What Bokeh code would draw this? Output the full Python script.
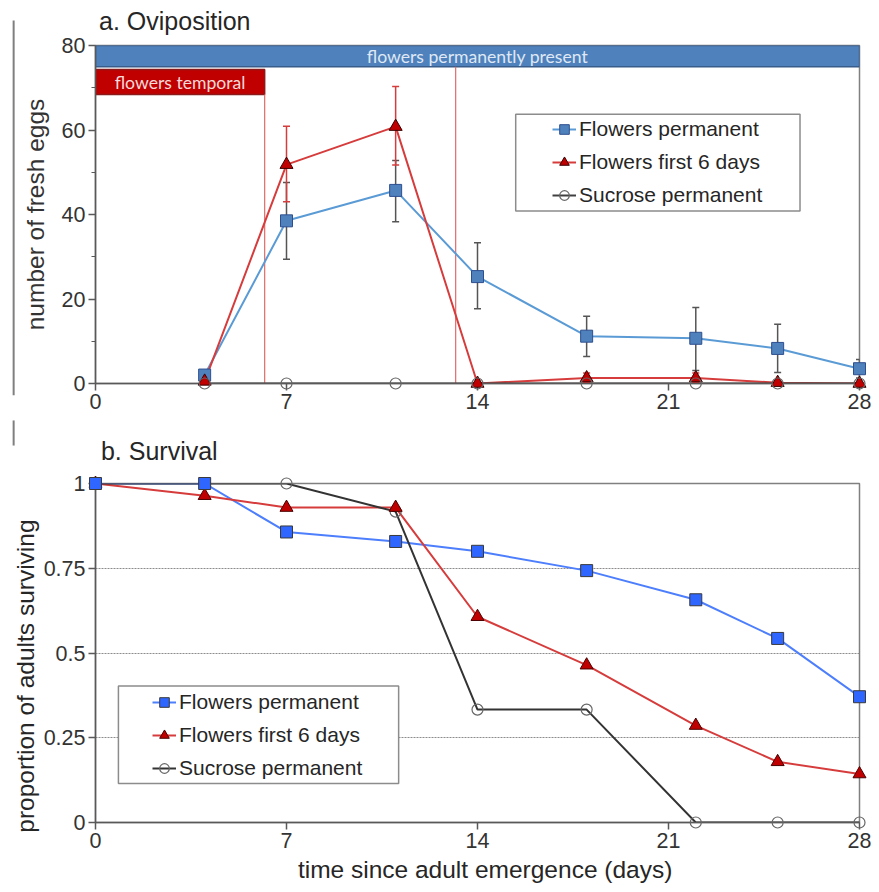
import math
from bokeh.plotting import figure
from bokeh.models import (ColumnDataSource, Whisker, TeeHead, FixedTicker, Legend,
                          LegendItem, BoxAnnotation, Range1d)
from bokeh.layouts import column
from bokeh.embed import file_html
from bokeh.resources import INLINE
from bokeh.core.properties import value

# ---------------- data ----------------
ovi_days = [4, 7, 11, 14, 18, 22, 25, 28]
ovi_perm = [2.0, 38.5, 45.7, 25.3, 11.2, 10.7, 8.3, 3.5]
ovi_first6 = [0.5, 51.8, 60.8, 0.0, 1.3, 1.3, 0.2, 0.0]
ovi_sucrose = [0.0, 0.0, 0.0, 0.0, 0.0, 0.0, 0.0, 0.0]

perm_err_days = [7, 11, 14, 18, 22, 25, 28]
perm_err_lower = [29.4, 38.3, 17.7, 6.4, 3.1, 2.6, 1.3]
perm_err_upper = [47.6, 52.8, 33.3, 15.9, 18.0, 14.0, 5.7]

first6_err_days = [7, 11, 18, 22]
first6_err_lower = [43.0, 51.7, 0.3, 0.3]
first6_err_upper = [60.9, 70.3, 2.5, 2.5]

surv_days = [0, 4, 7, 11, 14, 18, 22, 25, 28]
surv_perm = [1.0, 1.0, 0.857, 0.829, 0.800, 0.743, 0.657, 0.543, 0.371]
surv_first6 = [1.0, 0.964, 0.929, 0.929, 0.607, 0.464, 0.286, 0.179, 0.143]
surv_sucrose = [1.0, 1.0, 1.0, 0.917, 0.333, 0.333, 0.0, 0.0, 0.0]

x_ticks = [0, 7, 14, 21, 28]
ovi_ticks = [0, 20, 40, 60, 80]
ovi_minor = [10, 30, 50, 70]
surv_ticks = [0, 0.25, 0.5, 0.75, 1]
surv_tick_labels = {0: "0", 0.25: "0.25", 0.5: "0.5", 0.75: "0.75", 1: "1"}

series_labels = ["Flowers permanent", "Flowers first 6 days", "Sucrose permanent"]

FONT = "Liberation Sans"
AX = "#595959"
TXT = "#333333"


def style_axes(p):
    for ax in (p.xaxis[0], p.yaxis[0]):
        ax.axis_line_color = AX
        ax.axis_line_width = 1.5
        ax.major_tick_line_color = AX
        ax.major_tick_line_width = 1.5
        ax.minor_tick_line_color = AX
        ax.major_tick_out = 7
        ax.major_tick_in = 0
        ax.minor_tick_out = 4
        ax.minor_tick_in = 0
        ax.major_label_text_font = FONT
        ax.major_label_text_font_size = "21.5px"
        ax.major_label_text_color = TXT
        ax.major_label_standoff = 3
        ax.axis_label_text_font = FONT
        ax.axis_label_text_font_size = "24.5px"
        ax.axis_label_text_font_style = "normal"
        ax.axis_label_text_color = TXT
    p.outline_line_color = "#808080"
    p.outline_line_width = 1.5
    p.xgrid.visible = False


def free_text(p, x, y, s, size, align="left", angle=0.0):
    p.text(x=[x], y=[y], text=[s], text_font=value(FONT), text_font_size=size,
           text_color="#262626", text_align=align, text_baseline="middle",
           angle=angle, level="overlay")


# ---------------- panel a ----------------
p1 = figure(width=871, height=416, x_range=Range1d(0, 28), y_range=Range1d(0, 80),
            output_backend="svg", toolbar_location=None,
            min_border_left=95, min_border_right=12, min_border_top=45, min_border_bottom=33)
style_axes(p1)
p1.ygrid.visible = False
p1.xaxis.ticker = FixedTicker(ticks=x_ticks)
p1.yaxis.ticker = FixedTicker(ticks=ovi_ticks, minor_ticks=ovi_minor)
p1.yaxis.axis_label = "number of fresh eggs"
p1.yaxis.axis_label_standoff = 10
free_text(p1, 0.13, 85.9, "a. Oviposition", "25px")

# treatment bands
p1.quad(left=[0], right=[28], bottom=[75], top=[80], fill_color="#4f81bd",
        line_color="#385d8a", line_width=1.5)
p1.text(x=[14], y=[77.5], text=["flowers permanently present"], text_align="center",
        text_baseline="middle", text_font=value("Lato"), text_font_size="17.6px",
        text_color="#dfe8f4")
p1.quad(left=[0], right=[6.2], bottom=[68.4], top=[74.3], fill_color="#c00000",
        line_color="#8c1a1a", line_width=1.5)
p1.text(x=[3.1], y=[71.35], text=["flowers temporal"], text_align="center",
        text_baseline="middle", text_font=value("Lato"), text_font_size="17.6px",
        text_color="#f6dada")
p1.segment(x0=[6.2, 13.2], y0=[0, 0], x1=[6.2, 13.2], y1=[68.4, 75],
           line_color="#e06a6a", line_width=1.2)

# separator line at far left (page decoration)
p1.segment(x0=[-3.0], y0=[-2.8], x1=[-3.0], y1=[85.9], line_color="#7f7f7f",
           line_width=2, level="overlay")

l1b = p1.line(ovi_days, ovi_perm, line_color="#5b9bd5", line_width=2)
l1r = p1.line(ovi_days, ovi_first6, line_color="#d63c3c", line_width=2)
l1k = p1.line(ovi_days, ovi_sucrose, line_color="#404040", line_width=2)

src_pe = ColumnDataSource(dict(x=perm_err_days, lo=perm_err_lower, up=perm_err_upper))
src_fe = ColumnDataSource(dict(x=first6_err_days, lo=first6_err_lower, up=first6_err_upper))
for src, col in ((src_pe, "#555555"), (src_fe, "#d63c3c")):
    w = Whisker(source=src, base="x", lower="lo", upper="up", dimension="height",
                line_color=col, line_width=1.5, level="glyph",
                upper_head=TeeHead(size=7, line_color=col, line_width=1.5),
                lower_head=TeeHead(size=7, line_color=col, line_width=1.5))
    p1.add_layout(w)

s1b = p1.scatter(ovi_days, ovi_perm, marker="square", size=12, fill_color="#4f81bd",
                 line_color="#2e4f8f", line_width=1, level="overlay")
s1r = p1.scatter(ovi_days, ovi_first6, marker="triangle", size=13, fill_color="#c00000",
                 line_color="#3a0000", line_width=1, level="overlay")
s1k = p1.scatter(ovi_days, ovi_sucrose, marker="circle", size=11, fill_color=None,
                 line_color="#666666", line_width=1.2, level="overlay")

p1.add_layout(BoxAnnotation(left=15.4, right=25.82, bottom=40.8, top=63.7,
                            fill_color="white", fill_alpha=1, line_color="#8c8c8c",
                            line_width=1.5, line_alpha=1))
leg1 = Legend(items=[LegendItem(label=series_labels[0], renderers=[l1b, s1b]),
                     LegendItem(label=series_labels[1], renderers=[l1r, s1r]),
                     LegendItem(label=series_labels[2], renderers=[l1k, s1k])],
              location=(457, 173))

# ---------------- panel b ----------------
p2 = figure(width=871, height=468, x_range=Range1d(0, 28), y_range=Range1d(0, 1),
            output_backend="svg", toolbar_location=None,
            min_border_left=95, min_border_right=12, min_border_top=67, min_border_bottom=62)
style_axes(p2)
p2.xaxis.ticker = FixedTicker(ticks=x_ticks)
p2.yaxis.ticker = FixedTicker(ticks=surv_ticks)
p2.yaxis.major_label_overrides = surv_tick_labels
p2.ygrid.grid_line_color = "#8c8c8c"
p2.ygrid.grid_line_dash = "2 1"
p2.ygrid.grid_line_width = 1
free_text(p2, 0.2, 1.095, "b. Survival", "25px")
free_text(p2, 14.28, -0.139, "time since adult emergence (days)", "24.5px", align="center")
free_text(p2, -2.55, 0.432, "proportion of adults surviving", "24.5px", align="center",
          angle=math.pi / 2)

p2.segment(x0=[-3.0], y0=[1.112], x1=[-3.0], y1=[1.186], line_color="#7f7f7f",
           line_width=2, level="overlay")

l2b = p2.line(surv_days, surv_perm, line_color="#4d7efc", line_width=2)
l2r = p2.line(surv_days, surv_first6, line_color="#d63c3c", line_width=2)
l2k = p2.line(surv_days, surv_sucrose, line_color="#333333", line_width=2)
s2k = p2.scatter(surv_days, surv_sucrose, marker="circle", size=11, fill_color=None,
                 line_color="#666666", line_width=1.2, level="overlay")
s2r = p2.scatter(surv_days, surv_first6, marker="triangle", size=13, fill_color="#c00000",
                 line_color="#4a0000", line_width=1, level="overlay")
s2b = p2.scatter(surv_days, surv_perm, marker="square", size=12, fill_color="#2f66ff",
                 line_color="#3a3a3a", line_width=1, level="overlay")

p2.add_layout(BoxAnnotation(left=0.84, right=11.11, bottom=0.115, top=0.403,
                            fill_color="white", fill_alpha=1, line_color="#8c8c8c",
                            line_width=1.5, line_alpha=1))
leg2 = Legend(items=[LegendItem(label=series_labels[0], renderers=[l2b, s2b]),
                     LegendItem(label=series_labels[1], renderers=[l2r, s2r]),
                     LegendItem(label=series_labels[2], renderers=[l2k, s2k])],
              location=(57, 39))

for leg, p in ((leg1, p1), (leg2, p2)):
    leg.border_line_color = None
    leg.background_fill_alpha = 0
    leg.padding = 0
    leg.margin = 0
    leg.spacing = 3
    leg.label_height = 30
    leg.glyph_height = 30
    leg.glyph_width = 24
    leg.label_standoff = 3
    leg.label_text_font = FONT
    leg.label_text_font_size = "21px"
    leg.label_text_color = "#262626"
    p.add_layout(leg)

layout = column(p1, p2)
open("out.html", "w").write(file_html(layout, INLINE))
